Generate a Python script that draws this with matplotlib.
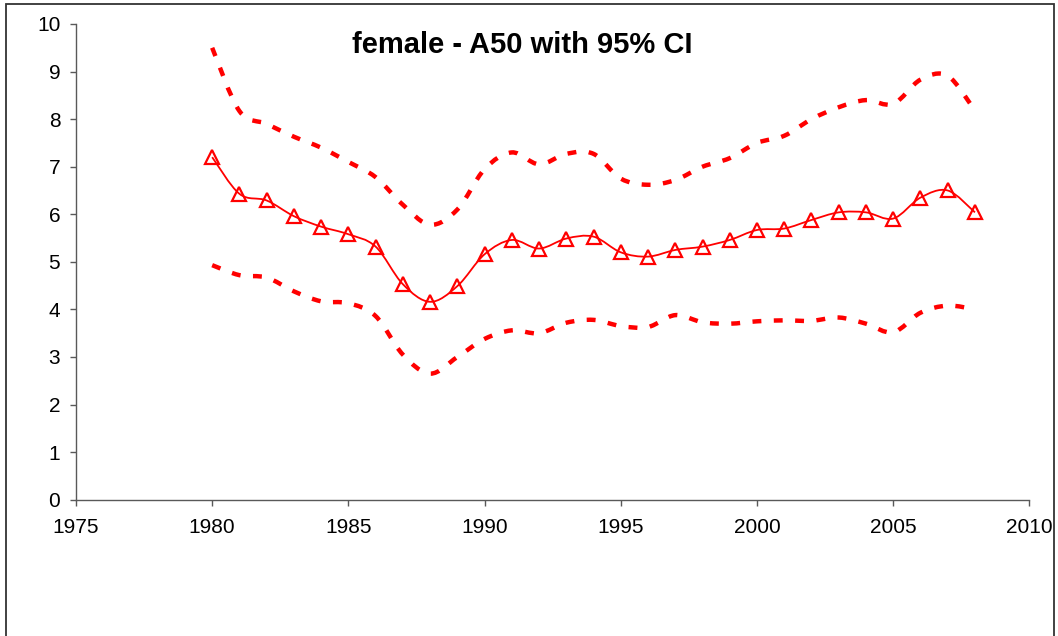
import numpy as np
import matplotlib.pyplot as plt
from matplotlib.path import Path
from matplotlib.patches import PathPatch, Rectangle

plt.rcParams['font.family'] = ['Liberation Sans', 'DejaVu Sans']

years = list(range(1980, 2009))
a50 = [7.20, 6.43, 6.29, 5.96, 5.74, 5.58, 5.32, 4.53, 4.16, 4.49,
       5.16, 5.46, 5.28, 5.49, 5.53, 5.20, 5.11, 5.25, 5.32, 5.46,
       5.67, 5.70, 5.88, 6.04, 6.04, 5.91, 6.35, 6.50, 6.04]
ci_upper = [9.50, 8.17, 7.90, 7.63, 7.40, 7.10, 6.78, 6.20, 5.78, 6.10,
            6.95, 7.30, 7.05, 7.27, 7.27, 6.75, 6.62, 6.72, 7.00, 7.18,
            7.50, 7.65, 8.00, 8.25, 8.40, 8.32, 8.83, 8.91, 8.18]
ci_lower = [4.93, 4.72, 4.67, 4.38, 4.17, 4.13, 3.86, 3.05, 2.65, 3.00,
            3.38, 3.56, 3.50, 3.72, 3.78, 3.65, 3.63, 3.88, 3.73, 3.70,
            3.75, 3.77, 3.76, 3.83, 3.70, 3.52, 3.93, 4.08, 4.00]


def smooth_path(x, y):
    # Catmull-Rom style bezier through every point (like a "smoothed line")
    pts = np.column_stack([x, y]).astype(float)
    ext = np.vstack([pts[0], pts, pts[-1]])
    verts = [pts[0]]
    codes = [Path.MOVETO]
    for i in range(len(pts) - 1):
        p0, p1, p2, p3 = ext[i], ext[i + 1], ext[i + 2], ext[i + 3]
        verts += [p1 + (p2 - p0) / 6.0, p2 - (p3 - p1) / 6.0, p2]
        codes += [Path.CURVE4] * 3
    return Path(verts, codes)


fig = plt.figure(figsize=(10.58, 6.36), dpi=100)
ax = fig.add_axes([0.0718, 0.2143, 0.9012, 0.748])

for ci in (ci_upper, ci_lower):
    ax.add_patch(PathPatch(smooth_path(years, ci), facecolor='none',
                           edgecolor='#ff0000', lw=3.2,
                           linestyle=(0, (2.0, 2.8)), capstyle='butt'))

ax.add_patch(PathPatch(smooth_path(years, a50), facecolor='none',
                       edgecolor='#ff0000', lw=1.3))
ax.plot(years, a50, ls='none', marker='^', ms=9.5, mfc='none',
        mec='#ff0000', mew=1.6)

ax.set_xlim(1975, 2010)
ax.set_ylim(0, 10)
ax.set_xticks(range(1975, 2011, 5))
ax.set_yticks(range(0, 11))
for s in ('top', 'right'):
    ax.spines[s].set_visible(False)
for s in ('left', 'bottom'):
    ax.spines[s].set_color('#595959')
    ax.spines[s].set_linewidth(1.0)
ax.tick_params(axis='both', colors='#595959', labelcolor='black',
               labelsize=15, length=4.3, width=1.0, direction='out')
ax.tick_params(axis='x', pad=9)
ax.tick_params(axis='y', pad=7)

fig.text(522 / 1058, 1 - 45 / 636, 'female - A50 with 95% CI',
         ha='center', va='center', fontsize=21, fontweight='bold')

fig.add_artist(Rectangle((5.5 / 1058, -0.1), (1054 - 5.5) / 1058,
                         1.1 - 4 / 636, transform=fig.transFigure,
                         fill=False, edgecolor='#333333', lw=1.3))

fig.savefig('out.png', dpi=100)
